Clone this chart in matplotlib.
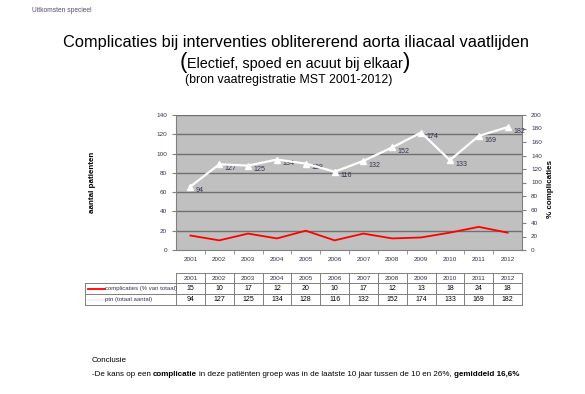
import matplotlib.pyplot as plt

jaren = ['2001', '2002', '2003', '2004', '2005', '2006', '2007', '2008', '2009', '2010', '2011', '2012']
complicaties = [15, 10, 17, 12, 20, 10, 17, 12, 13, 18, 24, 18]
ptn = [94, 127, 125, 134, 128, 116, 132, 152, 174, 133, 169, 182]
rij_labels = ['complicaties (% van totaal)', 'ptn (totaal aantal)']

W, H = 585, 394
plt.rcParams['font.family'] = ['Liberation Sans', 'DejaVu Sans']
fig = plt.figure(figsize=(W / 100, H / 100), dpi=100)
fig.patch.set_facecolor('white')
renderer = fig.canvas.get_renderer()

def box(x0, y0, x1, y1):
    return [x0 / W, 1 - y1 / H, (x1 - x0) / W, (y1 - y0) / H]

def pieces(x_px, y_px, parts, align='left'):
    # parts: list of (text, fontsize, weight, gap in px after it); one baseline
    objs = []
    for s, size, weight, gap in parts:
        t = fig.text(0, 1 - y_px / H, s, fontsize=size, fontweight=weight, va='baseline')
        objs.append((t, gap))
    widths = [t.get_window_extent(renderer).width + g for t, g in objs]
    x0 = x_px - (sum(widths) / 2 if align == 'center' else 0)
    for (t, g), w in zip(objs, widths):
        t.set_x(x0 / W)
        x0 += w

tick_col = '#3a3050'
fs = 4.6

# main chart
ax = fig.add_axes(box(176, 115, 522, 250))
ax.set_facecolor('#c0c0c0')
x = list(range(len(jaren)))
ax.set_xlim(-0.5, len(jaren) - 0.5)
ax.set_ylim(0, 140)
ax.set_yticks(range(0, 141, 20))
for v in range(20, 141, 20):
    ax.axhline(v, color='#707070', lw=1.0, zorder=1)
ax.plot(x, complicaties, color='#ff0000', lw=1.3, zorder=3)
ax.set_xticks(x)
ax.set_xticklabels(jaren)
ax.set_xticks([i + 0.5 for i in x[:-1]], minor=True)
ax.tick_params(axis='x', which='major', length=0, labelsize=fs, colors=tick_col, pad=5)
ax.tick_params(axis='x', which='minor', length=3, color='#808080', direction='out')
ax.tick_params(axis='y', labelsize=fs, colors=tick_col, length=3, color='#808080')
for s in ['top', 'right']:
    ax.spines[s].set_visible(False)
ax.spines['left'].set_color('#808080')
ax.spines['bottom'].set_color('#808080')

ax2 = ax.twinx()
ax2.set_ylim(0, 200)
ax2.set_yticks(range(0, 201, 20))
ax2.tick_params(axis='y', labelsize=fs, colors=tick_col, length=3, color='#808080')
for s in ['top', 'left', 'bottom']:
    ax2.spines[s].set_visible(False)
ax2.spines['right'].set_color('#808080')
ax2.plot(x, ptn, color='white', lw=1.6, marker='^', ms=4.5, mfc='white', mec='white', zorder=4)
for xi, v in zip(x, ptn):
    ax2.annotate(str(v), (xi, v), xytext=(4, -3), textcoords='offset points',
                 fontsize=fs + 0.5, color='#3a3050', va='center', ha='left')

fig.text(93 / W, 1 - 182 / H, 'aantal patienten', rotation=90, fontsize=5.8,
         fontweight='bold', ha='center', va='center')
fig.text(551 / W, 1 - 189 / H, '% complicaties', rotation=90, fontsize=5.8,
         fontweight='bold', ha='center', va='center')

# data table under chart, columns aligned with categories
tab = fig.add_axes(box(176, 273, 522, 305))
tab.set_xlim(-0.5, len(jaren) - 0.5)
tab.set_ylim(0, 3.2)
tab.axis('off')
unit = 346 / len(jaren)
lx = -0.5 - (176 - 85) / unit
rows_y = [3.2, 2.2, 1.1, 0.0]
lc = '#808080'
lw = 0.7
for y in rows_y:
    x0 = -0.5 if y == rows_y[0] else lx
    tab.plot([x0, len(jaren) - 0.5], [y, y], color=lc, lw=lw, clip_on=False)
for i in range(len(jaren) + 1):
    tab.plot([i - 0.5, i - 0.5], [0, 3.2], color=lc, lw=lw, clip_on=False)
tab.plot([lx, lx], [0, 2.2], color=lc, lw=lw, clip_on=False)
for i, j in enumerate(jaren):
    tab.text(i, 2.7, j, ha='center', va='center', fontsize=fs, color=tick_col)
    tab.text(i, 1.65, str(complicaties[i]), ha='center', va='center', fontsize=fs + 0.4, color='black')
    tab.text(i, 0.55, str(ptn[i]), ha='center', va='center', fontsize=fs + 0.4, color='black')
key_end = lx + (105 - 85) / unit
tab.plot([lx + 0.1, key_end], [1.65, 1.65], color='#ff0000', lw=1.3, clip_on=False)
tab.plot([lx + 0.1, key_end], [0.55, 0.55], color='#f0f0f0', lw=1.3, clip_on=False)
tab.text(key_end, 1.65, rij_labels[0], ha='left', va='center', fontsize=4.3, color=tick_col)
tab.text(key_end, 0.55, rij_labels[1], ha='left', va='center', fontsize=4.3, color=tick_col)

# titles
fig.text(32 / W, 1 - 11 / H, 'Uitkomsten specieel', fontsize=4.8, color='#5a4a6a', va='center')
fig.text(296 / W, 1 - 43 / H, 'Complicaties bij interventies oblitererend aorta iliacaal vaatlijden',
         fontsize=11.8, ha='center', va='center')
pieces(295, 68, [('(', 16, 'normal', 0), ('Electief, spoed en acuut bij elkaar', 10.4, 'normal', 0),
                 (')', 16, 'normal', 0)], align='center')
fig.text(289 / W, 1 - 80 / H, '(bron vaatregistratie MST 2001-2012)', fontsize=8.9,
         ha='center', va='center')

# conclusion
fig.text(92 / W, 1 - 361 / H, 'Conclusie', fontsize=5.8, va='center')
pieces(92, 376, [('-De kans op een ', 5.8, 'normal', 0), ('complicatie', 5.8, 'bold', 2),
                 ('in deze patiënten groep was in de laatste 10 jaar tussen de 10 en 26%,', 5.8, 'normal', 2),
                 ('gemiddeld 16,6%', 5.8, 'bold', 0)])

fig.savefig('out.png', dpi=100)
